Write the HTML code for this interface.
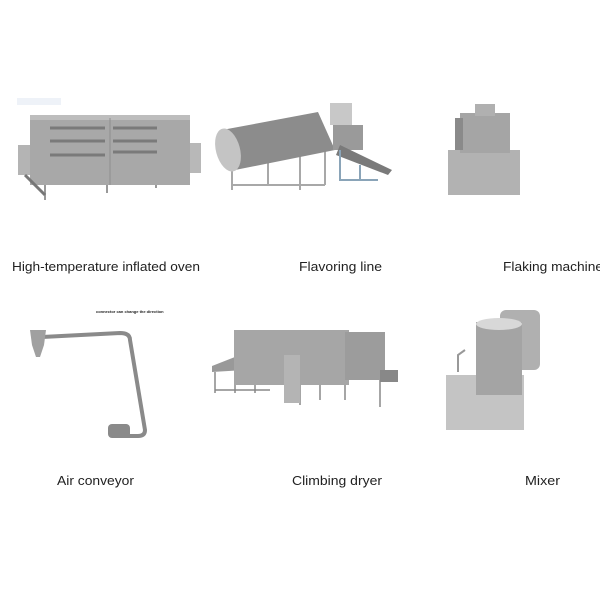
<!DOCTYPE html>
<html><head><style>
html,body{margin:0;padding:0;background:#fff;}
svg{display:block;}
text{font-family:"Liberation Sans",sans-serif;fill:#222;}
</style></head><body>
<svg width="600" height="600" viewBox="0 0 600 600">
<rect width="600" height="600" fill="#fff"/>
<rect x="17" y="98" width="44" height="7" fill="#eef2f8"/>
<!-- Oven -->
<rect x="18" y="145" width="14" height="30" fill="#b4b4b4"/>
<rect x="188" y="143" width="13" height="30" fill="#b8b8b8"/>
<rect x="30" y="115" width="160" height="70" fill="#a8a8a8"/>
<rect x="30" y="115" width="160" height="5" fill="#bdbdbd"/>
<line x1="110" y1="118" x2="110" y2="185" stroke="#8e8e8e"/>
<g stroke="#7a7a7a" stroke-width="3">
<line x1="50" y1="128" x2="105" y2="128"/><line x1="50" y1="141" x2="105" y2="141"/><line x1="50" y1="155" x2="105" y2="155"/>
<line x1="113" y1="128" x2="157" y2="128"/><line x1="113" y1="141" x2="157" y2="141"/><line x1="113" y1="152" x2="157" y2="152"/>
</g>
<g stroke="#999" stroke-width="2"><line x1="45" y1="185" x2="45" y2="200"/><line x1="107" y1="185" x2="107" y2="193"/><line x1="156" y1="185" x2="156" y2="188"/></g>
<line x1="25" y1="175" x2="45" y2="195" stroke="#777" stroke-width="3"/>
<!-- Flavoring -->
<g stroke="#a8a8a8" stroke-width="2" fill="none">
<path d="M232 190 L232 150 M300 190 L300 145 M268 186 L268 150 M232 185 L325 185 M325 185 L325 145"/>
</g>
<path d="M222 130 L318 112 L335 150 L235 170 Z" fill="#8c8c8c"/>
<ellipse cx="228" cy="150" rx="12" ry="22" fill="#c4c4c4" transform="rotate(-15 228 150)"/>
<rect x="330" y="103" width="22" height="22" fill="#c8c8c8"/>
<rect x="333" y="125" width="30" height="25" fill="#9a9a9a"/>
<path d="M340 145 L392 170 L388 175 L336 155 Z" fill="#7a7a7a"/>
<g stroke="#8aa4b8" stroke-width="2" fill="none"><path d="M340 150 L340 180 L378 180 M360 165 L360 180"/></g>
<!-- Flaking -->
<rect x="448" y="150" width="72" height="45" fill="#b2b2b2"/>
<rect x="460" y="113" width="50" height="40" fill="#a5a5a5"/>
<rect x="475" y="104" width="20" height="12" fill="#b0b0b0"/>
<rect x="455" y="118" width="8" height="32" fill="#8a8a8a"/>
<!-- Air conveyor -->
<text x="96" y="313" font-size="4" font-weight="bold">connector can change the direction</text>
<path d="M42 337 L120 333 Q130 333 130 340 L145 430 Q145 436 138 436 L120 436" fill="none" stroke="#8a8a8a" stroke-width="4"/>
<path d="M30 330 L46 330 L44 345 L40 357 L36 357 L32 345 Z" fill="#a0a0a0"/>
<rect x="108" y="424" width="22" height="14" rx="4" fill="#8a8a8a"/>
<!-- Dryer -->
<path d="M212 366 L240 355 L260 340 L270 345 L245 370 L212 372 Z" fill="#999"/>
<g stroke="#888" stroke-width="1.5"><path d="M215 372 L215 393 M235 372 L235 393 M255 372 L255 393 M215 390 L270 390 M300 385 L300 405 M320 380 L320 400 M345 380 L345 400 M380 378 L380 407"/></g>
<rect x="234" y="330" width="115" height="55" fill="#a6a6a6"/>
<rect x="345" y="332" width="40" height="48" fill="#9c9c9c"/>
<rect x="284" y="355" width="16" height="48" fill="#b4b4b4"/>
<rect x="380" y="370" width="18" height="12" fill="#888"/>
<!-- Mixer -->
<rect x="500" y="310" width="40" height="60" rx="6" fill="#b0b0b0"/>
<rect x="446" y="375" width="78" height="55" fill="#c4c4c4"/>
<rect x="476" y="322" width="46" height="73" fill="#a4a4a4"/>
<ellipse cx="499" cy="324" rx="23" ry="6" fill="#d8d8d8"/>
<path d="M458 372 L458 355 L465 350" fill="none" stroke="#999" stroke-width="2"/>
<!-- labels -->
<g font-size="12.5">
<text x="12" y="271" textLength="188" lengthAdjust="spacingAndGlyphs">High-temperature inflated oven</text>
<text x="299" y="271" textLength="83" lengthAdjust="spacingAndGlyphs">Flavoring line</text>
<text x="503" y="271" textLength="100" lengthAdjust="spacingAndGlyphs">Flaking machine</text>
<text x="57" y="485" textLength="77" lengthAdjust="spacingAndGlyphs">Air conveyor</text>
<text x="292" y="485" textLength="90" lengthAdjust="spacingAndGlyphs">Climbing dryer</text>
<text x="525" y="485" textLength="35" lengthAdjust="spacingAndGlyphs">Mixer</text>
</g>
</svg>
</body></html>
